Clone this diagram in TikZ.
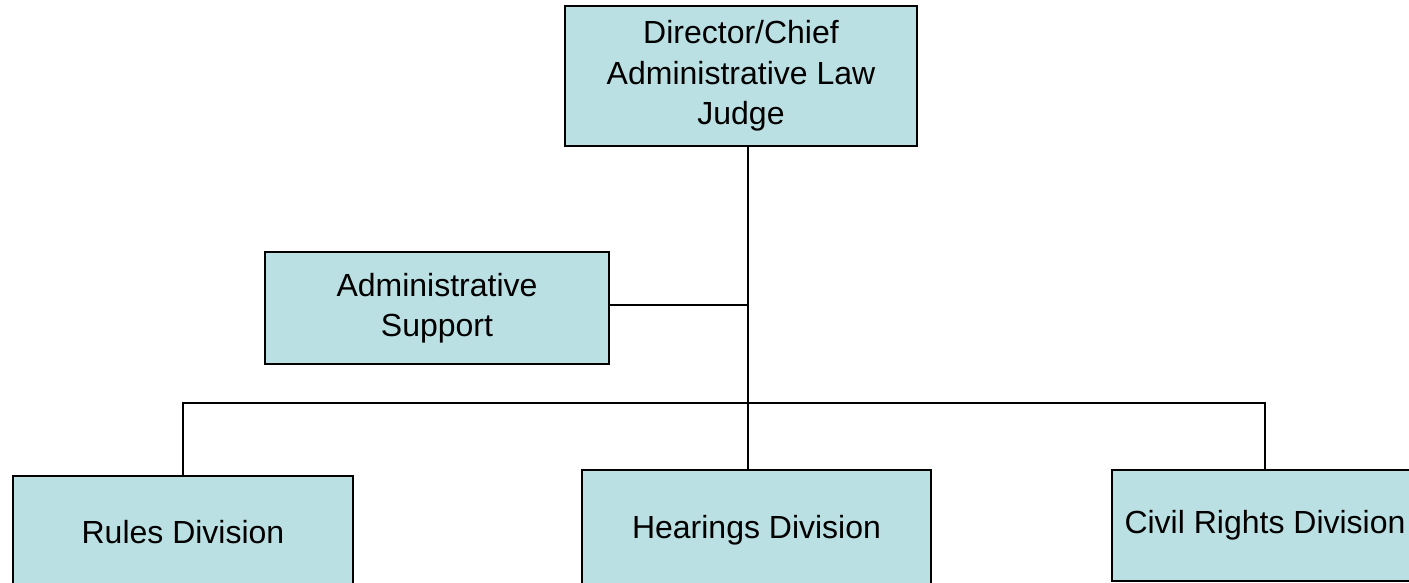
\documentclass[tikz,border=0pt]{standalone}
\usepackage{fontspec}
\setmainfont{Liberation Sans}
\definecolor{boxfill}{HTML}{BBE0E3}
\begin{document}
\begin{tikzpicture}[x=1pt,y=-1pt,
  orgbox/.style={draw=black,line width=1.6pt,fill=boxfill,align=center,inner sep=0pt,
    font=\fontsize{32}{40.5}\selectfont},
  link/.style={draw=black,line width=1.5pt}]
\useasboundingbox (0,0) rectangle (1409,583);
\clip (0,0) rectangle (1409,583);
\node[orgbox,minimum width=352pt,minimum height=140pt] (dir) at (741,76) {Director/Chief\\Administrative Law\\Judge};
\node[orgbox,minimum width=344pt,minimum height=112pt] (adm) at (437,308) {Administrative\\Support};
\node[orgbox,minimum width=340pt,minimum height=112pt] (rules) at (183,532) {Rules Division};
\node[orgbox,minimum width=349pt,minimum height=120pt] (hear) at (756.5,530) {Hearings Division};
\node[orgbox,minimum width=306pt,minimum height=111pt] (civil) at (1265,525.5) {Civil Rights Division};
\coordinate (t) at (748,403);
\draw[link] (dir.south -| t) -- (hear.north -| t);
\draw[link] ([yshift=3pt]adm.east) -- ([yshift=3pt]adm.east -| t);
\draw[link] (rules.north) |- (t) -| (civil.north);
\end{tikzpicture}
\end{document}
